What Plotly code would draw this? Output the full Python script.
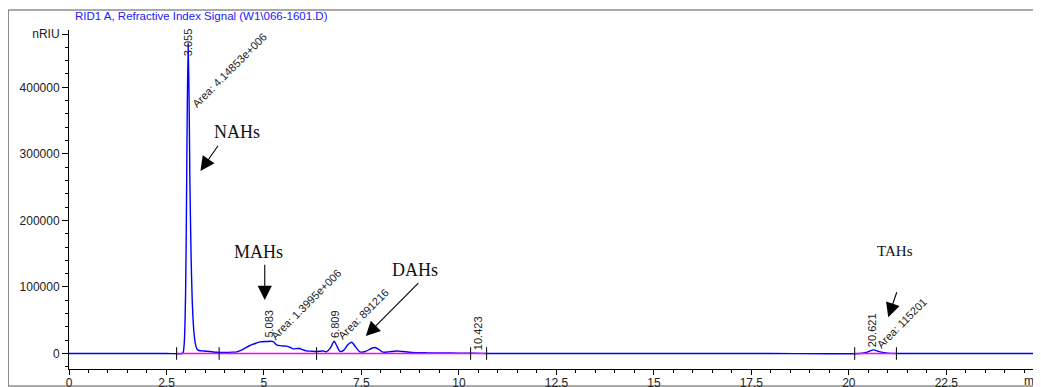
import plotly.graph_objects as go

# ---- data ----
time_min = [0.0, 2.5, 2.90, 2.93, 2.96, 2.99, 3.01, 3.03, 3.055, 3.08, 3.10, 3.13, 3.16, 3.20,
            3.24, 3.28, 3.33, 3.45, 3.60, 3.80, 4.00, 4.20, 4.30, 4.45, 4.64, 4.80, 4.90, 5.05,
            5.24, 5.32, 5.45, 5.58, 5.68, 5.75, 5.85, 5.92, 6.00, 6.09, 6.20, 6.35, 6.52, 6.60,
            6.70, 6.80, 6.88, 6.95, 7.05, 7.15, 7.25, 7.35, 7.46, 7.60, 7.75, 7.85, 7.95, 8.05,
            8.20, 8.40, 8.55, 8.80, 9.20, 9.60, 10.00, 10.40, 10.70, 12.0, 15.0, 18.0, 20.30,
            20.45, 20.621, 20.80, 21.00, 21.20, 23.0, 24.93]
signal_nriu = [0, 0, 0, 2000, 20000, 90000, 200000, 350000, 466000, 380000, 260000, 150000, 80000, 35000,
               15000, 7000, 4500, 3800, 3000, 1800, 1500, 2000, 2500, 6000, 12000, 15500, 17500, 18000,
               18000, 13000, 11500, 11000, 9000, 7000, 7500, 7500, 5500, 4000, 3500, 3000, 3800, 2500,
               8000, 18500, 10000, 3000, 5000, 13000, 17000, 10000, 2500, 3000, 7500, 9000, 6000, 2000,
               2500, 3800, 3000, 1500, 1000, 800, 500, 300, 0, 0, 0, 0, 0,
               1500, 5500, 2500, 500, 0, 0, 0]

baseline_starts = [2.76, 20.15]
baseline_ends = [10.71, 21.22]
event_ticks = [2.76, 3.85, 6.35, 10.30, 10.71, 20.15, 21.22]

rt_labels = ["3.055", "5.083", "6.809", "10.423", "20.621"]
area_labels = ["Area: 4.14853e+006", "Area: 1.3995e+006", "Area: 891216", "Area: 115201"]
group_labels = ["NAHs", "MAHs", "DAHs", "TAHs"]

y_tickvals = [0, 100000, 200000, 300000, 400000, 480000]
y_ticktext = ["0", "100000", "200000", "300000", "400000", "nRIU"]
x_tickvals = [0, 2.5, 5, 7.5, 10, 12.5, 15, 17.5, 20, 22.5]
x_ticktext = ["0", "2.5", "5", "7.5", "10", "12.5", "15", "17.5", "20", "22.5"]

# ---- figure ----
fig = go.Figure()
fig.add_trace(go.Scatter(x=time_min, y=signal_nriu, mode="lines",
                         line=dict(color="#0000ff", width=1.4, shape="spline", smoothing=0.6),
                         hoverinfo="skip", showlegend=False))
bx, by = [], []
for s, e in zip(baseline_starts, baseline_ends):
    bx += [s, e, None]
    by += [0, 0, None]
fig.add_trace(go.Scatter(x=bx, y=by, mode="lines", line=dict(color="#ff00ff", width=1.5),
                         hoverinfo="skip", showlegend=False))
fig.add_trace(go.Scatter(x=event_ticks, y=[0] * len(event_ticks), mode="markers",
                         marker=dict(symbol="line-ns", size=9, line=dict(color="black", width=1)),
                         hoverinfo="skip", showlegend=False))

# page pixel -> data helpers (page has an 8 px body margin)
X_PX0, X_SCALE = 69.3, 38.98
Y_PX0, Y_SCALE = 353.5, 66.55e-5
PLOT_W = 971.7
PLOT_TOP, PLOT_BOT = 30, 369
PLOT_H = PLOT_BOT - PLOT_TOP


def t_of(px):
    return (px - X_PX0) / X_SCALE


def v_of(py):
    return (Y_PX0 - py) / Y_SCALE


lab_font = dict(family="Arial, Liberation Sans, sans-serif", size=11, color="#222")
rt_pos = [(188.5, 42), (268.8, 324), (334.7, 323.5), (478.3, 333), (871.7, 330.5)]
for txt, (px, py) in zip(rt_labels, rt_pos):
    fig.add_annotation(x=t_of(px), y=v_of(py), text=txt, textangle=-90, showarrow=False,
                       xanchor="center", yanchor="middle", font=lab_font)
area_pos = [(229.7, 69.5), (306.7, 304), (363.3, 313.5), (901.8, 323)]
for txt, (px, py) in zip(area_labels, area_pos):
    fig.add_annotation(x=t_of(px), y=v_of(py), text=txt, textangle=-45, showarrow=False,
                       xanchor="center", yanchor="middle", font=lab_font)

group_pos = [(237.5, 132, 18), (258.8, 252, 18), (415.5, 270, 18), (895, 251, 15)]
for txt, (px, py, fs) in zip(group_labels, group_pos):
    fig.add_annotation(x=t_of(px), y=v_of(py), text=txt, showarrow=False,
                       xanchor="center", yanchor="middle",
                       font=dict(family="Times New Roman, Liberation Serif, serif", size=fs, color="#111"))

arrows = [((219.3, 144.3), (200.7, 171)), ((265, 263.3), (265, 300)),
          ((420, 281.7), (366, 336)), ((897.3, 290.7), (888.3, 317.3))]
for (tx, ty), (hx, hy) in arrows:
    fig.add_annotation(x=t_of(hx), y=v_of(hy), ax=t_of(tx), ay=v_of(ty), axref="x", ayref="y",
                       text="", showarrow=True, arrowhead=2, arrowsize=2.6, arrowwidth=1.1,
                       arrowcolor="black", standoff=0)

# title
fig.add_annotation(xref="paper", yref="paper", x=(73 - X_PX0) / PLOT_W, y=1 + (PLOT_TOP - 16) / PLOT_H,
                   text="RID1 A, Refractive Index Signal (W1\\066-1601.D)", showarrow=False,
                   xanchor="left", yanchor="middle",
                   font=dict(family="Arial, Liberation Sans, sans-serif", size=11.5, color="#2020ff"))
# axis unit
fig.add_annotation(xref="paper", yref="paper", x=(1022 - X_PX0) / PLOT_W, y=(PLOT_BOT - 381) / PLOT_H,
                   text="min", showarrow=False, xanchor="left", yanchor="middle",
                   font=dict(family="Arial, Liberation Sans, sans-serif", size=12, color="#222"))

# outer frame
fig.add_shape(type="rect", xref="paper", yref="paper",
              x0=(8.5 - X_PX0) / PLOT_W, x1=1.02,
              y0=(PLOT_BOT - 386) / PLOT_H, y1=1 + (PLOT_TOP - 10) / PLOT_H,
              line=dict(color="#555", width=1), fillcolor="rgba(0,0,0,0)", layer="below")

tick_font = dict(family="Arial, Liberation Sans, sans-serif", size=12, color="#222")
fig.update_xaxes(range=[0, (1041 - X_PX0) / X_SCALE], showgrid=False, zeroline=False,
                 showline=True, linecolor="black", linewidth=1, automargin=False,
                 tickmode="array", tickvals=x_tickvals, ticktext=x_ticktext,
                 ticks="outside", ticklen=5, tickcolor="black", tickfont=tick_font,
                 ticklabelstandoff=-2,
                 minor=dict(dtick=0.5, tick0=0, ticks="outside", ticklen=3, tickcolor="black"))
fig.update_yaxes(range=[v_of(PLOT_BOT), v_of(PLOT_TOP)], showgrid=False, zeroline=False,
                 showline=True, linecolor="black", linewidth=1, automargin=False,
                 tickmode="array", tickvals=y_tickvals, ticktext=y_ticktext,
                 ticks="outside", ticklen=6, tickcolor="black", tickfont=tick_font,
                 minor=dict(dtick=20000, tick0=0, ticks="outside", ticklen=3, tickcolor="black"))

# figure is offset by the page's 8 px body margin
fig.update_layout(width=1033, height=379,
                  margin=dict(l=61.3, r=0, t=PLOT_TOP - 8, b=379 - (PLOT_BOT - 8)),
                  plot_bgcolor="white", paper_bgcolor="white", showlegend=False)

fig.write_html("out.html")
